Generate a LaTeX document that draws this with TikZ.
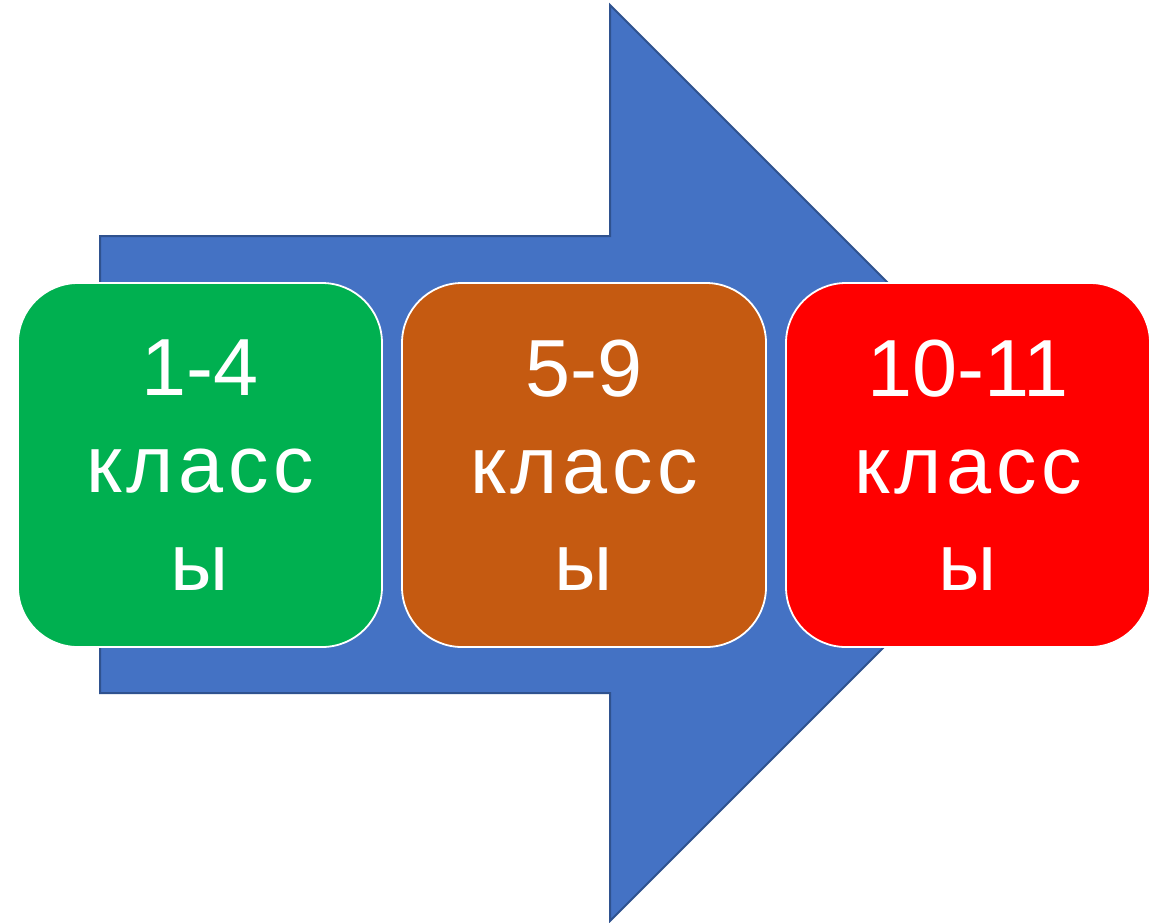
\documentclass[tikz,border=0pt]{standalone}
\usepackage{fontspec}
\setmainfont{Liberation Sans}
\definecolor{arrowblue}{HTML}{4472C4}
\definecolor{arrowedge}{HTML}{2F528F}
\definecolor{boxgreen}{HTML}{00B050}
\definecolor{boxbrown}{HTML}{C55A11}
\definecolor{boxred}{HTML}{FF0000}
\newcommand\klassword{к\kern2.4pt\relax л\kern2.4pt\relax а\kern2.4pt\relax с\kern2.4pt\relax с}
\begin{document}
\begin{tikzpicture}[x=0.5pt,y=-0.5pt,
  classbox/.style={draw=white, line width=0.9pt, rounded corners=30pt,
    minimum width=182pt, minimum height=182pt, inner sep=0pt,
    text=white, align=center,
    font=\fontsize{40.5pt}{48.6pt}\selectfont}]
\useasboundingbox (0,0) rectangle (1165,922);
\fill[white] (0,0) rectangle (1165,922);
% big arrow
\coordinate (s1) at (100,236);
\coordinate (h1) at (610,236);
\coordinate (h2) at (610,5);
\coordinate (tip) at (1068,463);
\coordinate (h3) at (610,921);
\coordinate (h4) at (610,693);
\coordinate (s2) at (100,693);
\draw[fill=arrowblue, draw=arrowedge, line width=1pt, line join=miter]
  (s1) -- (h1) -- (h2) -- (tip) -- (h3) -- (h4) -- (s2) -- cycle;
% boxes
\node[classbox, fill=boxgreen] (g) at (200,465) {1-4\\\klassword\\ы};
\node[classbox, fill=boxbrown] (b) at (584,465) {5-9\\\klassword\\ы};
\node[classbox, fill=boxred] (r) at (968,465) {10-11\\\klassword\\ы};
\end{tikzpicture}
\end{document}
